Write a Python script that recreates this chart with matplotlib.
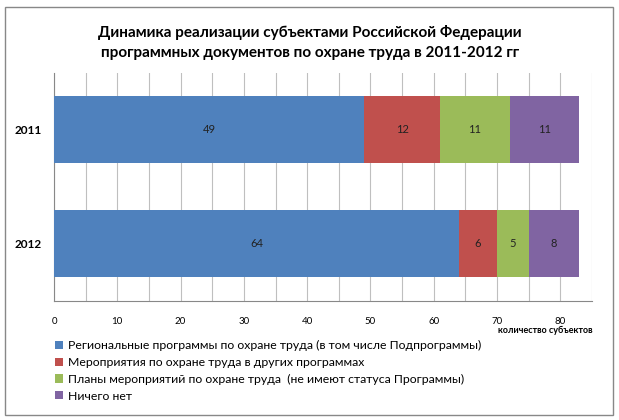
import matplotlib
matplotlib.use("Agg")
import matplotlib.pyplot as plt
from matplotlib.patches import Rectangle
import numpy as np

plt.rcParams['font.family'] = ['Lato', 'DejaVu Sans']

years = ['2011', '2012']
series_names = [
    'Региональные программы по охране труда (в том числе Подпрограммы)',
    'Мероприятия по охране труда в других программах',
    'Планы мероприятий по охране труда  (не имеют статуса Программы)',
    'Ничего нет',
]
regional = [49, 64]
other_programs = [12, 6]
plans = [11, 5]
nothing = [11, 8]
colors = ['#4F81BD', '#C0504D', '#9BBB59', '#8064A2']

W, H = 619, 420
fig = plt.figure(figsize=(W / 100, H / 100), dpi=100)
fig.patches.append(Rectangle((5 / W, 5 / H), 608 / W, 408 / H, transform=fig.transFigure,
                             fill=False, edgecolor='#888888', linewidth=1.0))

ax = fig.add_axes([54 / W, (H - 300.5) / H, (592 - 54) / W, (300.5 - 72.5) / H])

y = np.arange(len(years))
left = np.zeros(len(years))
for vals, c, name in zip([regional, other_programs, plans, nothing], colors, series_names):
    bars = ax.barh(y, vals, left=left, height=0.588, color=c, label=name, zorder=3)
    for b, v in zip(bars, vals):
        ax.text(b.get_x() + b.get_width() / 2, b.get_y() + b.get_height() / 2, str(v),
                ha='center', va='center', fontsize=8, color='#222222', zorder=4)
    left += np.array(vals)

ax.set_xlim(0, 85)
ax.set_ylim(1.5, -0.5)
ax.set_xticks(np.arange(0, 81, 10))
ax.set_xticks(np.arange(0, 86, 5), minor=True)
ax.grid(axis='x', which='both', color='#BFBFBF', linewidth=0.8, zorder=0)
ax.set_yticks(y)
ax.set_yticklabels(years, fontsize=8.5, fontweight='bold')
ax.tick_params(axis='x', which='both', length=0, labelsize=7, pad=12)
ax.tick_params(axis='y', length=0, pad=9)
for s in ['top', 'right']:
    ax.spines[s].set_visible(False)
ax.spines['left'].set_color('#888888')
ax.spines['bottom'].set_color('#888888')

fig.text(545 / W, 1 - 330 / H, 'количество субъектов', ha='center', va='center',
         fontsize=6.5, fontweight='bold')

fig.text(310 / W, 1 - 32 / H, 'Динамика реализации субъектами Российской Федерации',
         ha='center', va='center', fontsize=11, fontweight='bold')
fig.text(310 / W, 1 - 53 / H, 'программных документов по охране труда в 2011-2012 гг',
         ha='center', va='center', fontsize=11, fontweight='bold')

handles, labels = ax.get_legend_handles_labels()
fig.legend(handles, labels, loc='upper left', bbox_to_anchor=(55 / W, 1 - 340 / H),
           frameon=False, fontsize=8.8, handlelength=0.65, handleheight=0.65,
           handletextpad=0.4, labelspacing=0.48, borderaxespad=0, borderpad=0)

fig.savefig('out.png', dpi=100)
